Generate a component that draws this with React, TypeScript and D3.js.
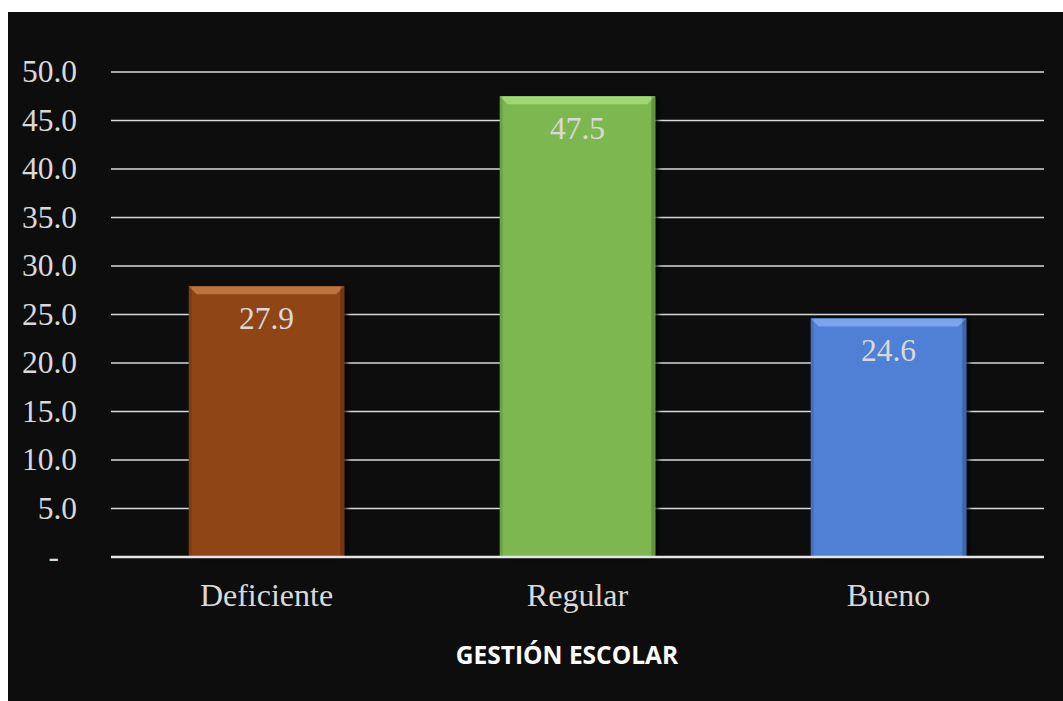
import React from "react";
import * as d3 from "d3";

const categories = ["Deficiente", "Regular", "Bueno"];
const values = [27.9, 47.5, 24.6];
const barColors = ["#8f4414", "#7cb850", "#4f80d6"];
const bevelColors = ["#c77a45", "#a6dc78", "#84aaf0"];
const yTicks = [0, 5, 10, 15, 20, 25, 30, 35, 40, 45, 50];

const W = 1063;
const H = 701;
const plotLeft = 111;
const plotRight = 1044;
const plotTop = 72;
const plotBottom = 557;

export default function App() {
  const x = d3.scaleBand<string>().domain(categories).range([plotLeft, plotRight]).paddingInner(0.5).paddingOuter(0.25);
  const y = d3.scaleLinear().domain([0, 50]).range([plotBottom, plotTop]);
  const fmt = (v: number) => (v === 0 ? "-" : d3.format(".1f")(v));
  const serif = "'Liberation Serif', 'Times New Roman', serif";
  const bw = x.bandwidth();
  const bev = 8;
  return (
    <svg width={W} height={H} style={{ position: "absolute", left: 0, top: 0 }}>
      <defs>
        <filter id="sh" x="-10%" y="-10%" width="130%" height="120%">
          <feGaussianBlur in="SourceAlpha" stdDeviation="2" />
          <feOffset dx="3" dy="1" result="o" />
          <feComponentTransfer><feFuncA type="linear" slope="0.8" /></feComponentTransfer>
          <feMerge><feMergeNode /><feMergeNode in="SourceGraphic" /></feMerge>
        </filter>
      </defs>
      <rect x={8} y={12} width={W - 8} height={H - 12} fill="#0d0d0d" />
      {yTicks.map((t) => (
        <g key={t}>
          {t > 0 && (
            <line x1={plotLeft} x2={plotRight} y1={y(t)} y2={y(t)} stroke="#d9d9d9" strokeWidth={1.5} />
          )}
          <text
            x={t === 0 ? 59 : 77}
            y={y(t)}
            dy={10}
            textAnchor="end"
            fill="#d9d9d9"
            fontFamily={serif}
            fontSize={31.5}
          >
            {fmt(t)}
          </text>
        </g>
      ))}
      {categories.map((c, i) => {
        const x0 = x(c)!;
        const y0 = y(values[i]);
        const h = plotBottom - y0;
        return (
          <g key={c}>
            <g filter="url(#sh)">
              <rect x={x0} y={y0} width={bw} height={h} fill={barColors[i]} />
            </g>
            <polygon
              points={`${x0},${y0} ${x0 + bw},${y0} ${x0 + bw - bev},${y0 + bev} ${x0 + bev},${y0 + bev}`}
              fill={bevelColors[i]}
              opacity={0.85}
            />
            <rect x={x0} y={y0} width={3} height={h} fill="#000" opacity={0.12} />
            <rect x={x0 + bw - 4} y={y0} width={4} height={h} fill="#000" opacity={0.2} />
            <text
              x={x0 + bw / 2}
              y={y0 + 43}
              textAnchor="middle"
              fill="#d9d9d9"
              fontFamily={serif}
              fontSize={31.5}
            >
              {d3.format(".1f")(values[i])}
            </text>
            <text
              x={x0 + bw / 2}
              y={606}
              textAnchor="middle"
              fill="#d9d9d9"
              fontFamily={serif}
              fontSize={32}
            >
              {c}
            </text>
          </g>
        );
      })}
      <line x1={plotLeft} x2={plotRight} y1={plotBottom} y2={plotBottom} stroke="#e6e6e6" strokeWidth={2.5} />
      <text
        x={567}
        y={664}
        textAnchor="middle"
        fill="#ffffff"
        fontFamily="'Open Sans', 'Noto Sans', sans-serif"
        fontWeight="bold"
        fontSize={24.5}
      >
        GESTIÓN ESCOLAR
      </text>
    </svg>
  );
}
